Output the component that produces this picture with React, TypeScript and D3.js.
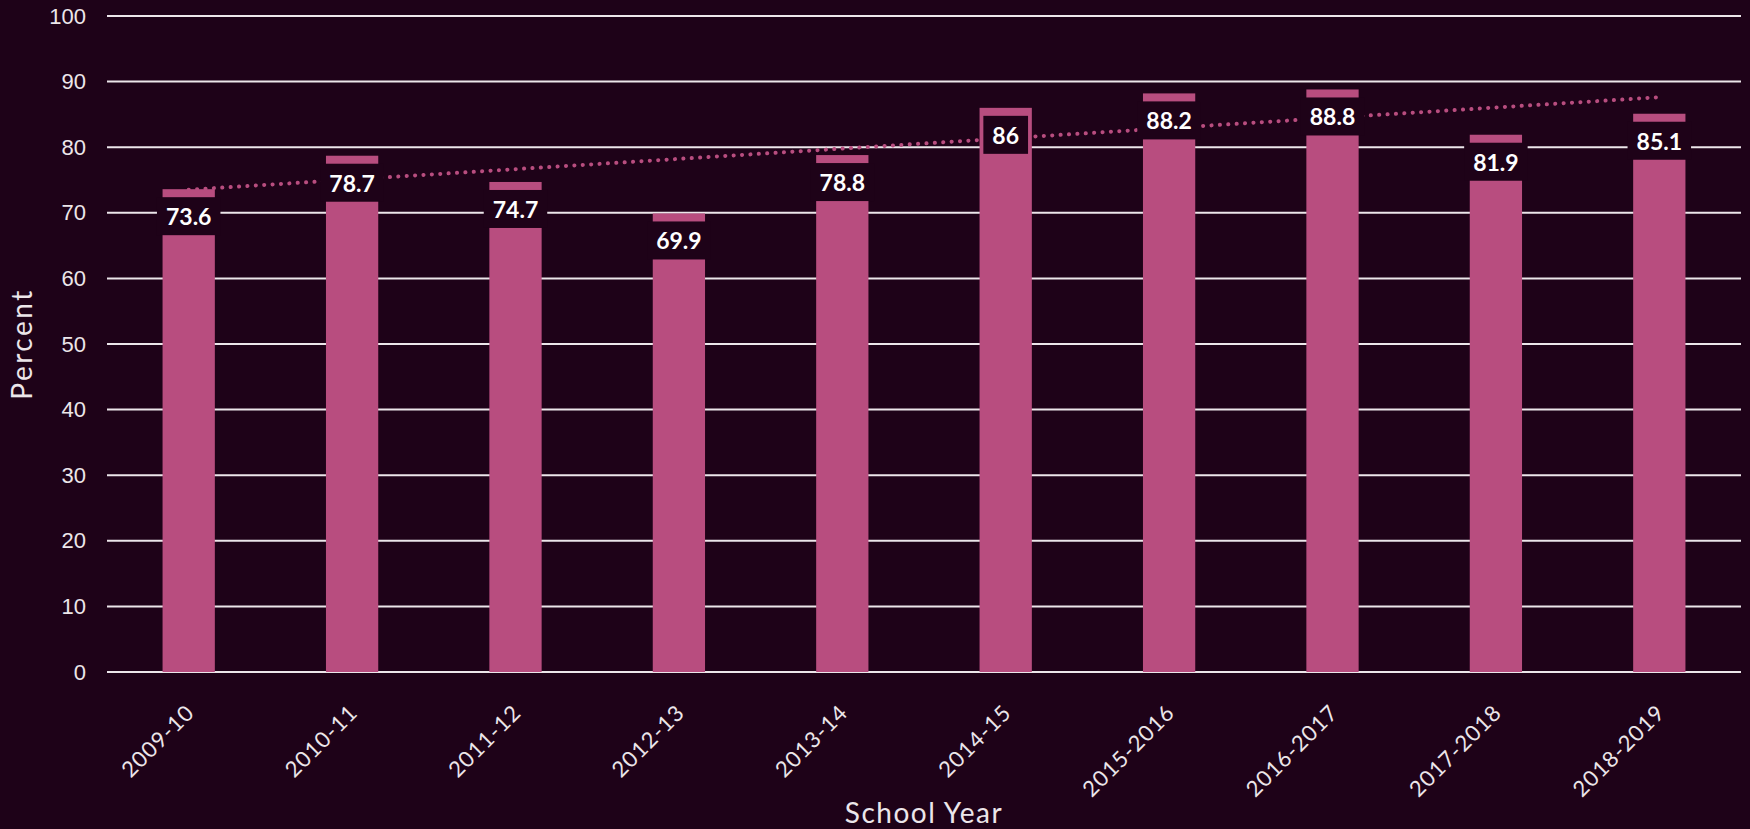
import { useEffect, useRef } from "react";
import * as d3 from "d3";

const years = [
  "2009-10", "2010-11", "2011-12", "2012-13", "2013-14",
  "2014-15", "2015-2016", "2016-2017", "2017-2018", "2018-2019",
];
const percents = [73.6, 78.7, 74.7, 69.9, 78.8, 86, 88.2, 88.8, 81.9, 85.1];
const yTicks = [0, 10, 20, 30, 40, 50, 60, 70, 80, 90, 100];

const BG = "#1e0218";
const BAR = "#b84d7f";
const GRID = "#ece6ea";

export default function App() {
  const svgRef = useRef<SVGSVGElement | null>(null);

  useEffect(() => {
    if (!svgRef.current) return;
    const width = 1750;
    const height = 829;
    const left = 107, right = 1741, top = 16, bottom = 672;

    const svg = d3.select(svgRef.current);
    svg.selectAll("*").remove();
    svg.attr("width", width).attr("height", height);

    svg.append("rect").attr("width", width).attr("height", height).attr("fill", BG);

    const x = d3.scaleBand<string>()
      .domain(years)
      .range([left, right])
      .paddingInner(0.68)
      .paddingOuter(0.34);

    const y = d3.scaleLinear().domain([0, 100]).range([bottom, top]);

    // gridlines + y labels
    const grid = svg.append("g");
    grid.selectAll("line")
      .data(yTicks)
      .enter()
      .append("line")
      .attr("x1", left)
      .attr("x2", right)
      .attr("y1", d => y(d))
      .attr("y2", d => y(d))
      .attr("stroke", GRID)
      .attr("stroke-width", 2);

    grid.selectAll("text")
      .data(yTicks)
      .enter()
      .append("text")
      .attr("x", 86)
      .attr("y", d => y(d))
      .attr("text-anchor", "end")
      .attr("dominant-baseline", "central")
      .attr("font-family", "'Liberation Sans', Arial, sans-serif")
      .attr("font-size", 22)
      .attr("fill", GRID)
      .text(d => String(d));

    // bars
    svg.append("g")
      .selectAll("rect")
      .data(percents)
      .enter()
      .append("rect")
      .attr("x", (_, i) => x(years[i])!)
      .attr("y", d => y(d))
      .attr("width", x.bandwidth())
      .attr("height", d => bottom - y(d))
      .attr("fill", BAR);

    // linear trend line
    const idx = percents.map((_, i) => i);
    const mx = d3.mean(idx)!;
    const my = d3.mean(percents)!;
    const slope = d3.sum(idx, i => (i - mx) * (percents[i] - my)) / d3.sum(idx, i => (i - mx) ** 2);
    const icpt = my - slope * mx;
    const trend = idx.map(i => ({ year: years[i], v: icpt + slope * i }));
    const line = d3.line<{ year: string; v: number }>()
      .x(d => x(d.year)! + x.bandwidth() / 2)
      .y(d => y(d.v));
    svg.append("path")
      .datum(trend)
      .attr("d", line)
      .attr("fill", "none")
      .attr("stroke", BAR)
      .attr("stroke-width", 4)
      .attr("stroke-linecap", "round")
      .attr("stroke-dasharray", "0.1 8.3");

    // data labels with background boxes
    const labels = svg.append("g");
    percents.forEach((v, i) => {
      const cx = x(years[i])! + x.bandwidth() / 2;
      const cy = y(v) + 27;
      const lg = labels.append("g");
      const t = lg.append("text")
        .attr("x", cx)
        .attr("y", cy)
        .attr("text-anchor", "middle")
        .attr("dominant-baseline", "central")
        .attr("font-family", "Lato, 'Noto Sans', sans-serif")
        .attr("font-weight", 700)
        .attr("font-size", 23)
        .attr("fill", "#ffffff")
        .text(String(v));
      const w = (t.node() as SVGTextElement).getComputedTextLength();
      lg.insert("rect", "text")
        .attr("x", cx - w / 2 - 9)
        .attr("y", cy - 19)
        .attr("width", w + 18)
        .attr("height", 38)
        .attr("fill", BG);
    });

    // x labels
    svg.append("g")
      .selectAll("text")
      .data(years)
      .enter()
      .append("text")
      .attr("transform", d => `translate(${x(d)! + x.bandwidth() / 2 + 7},${bottom + 42}) rotate(-45)`)
      .attr("text-anchor", "end")
      .attr("font-family", "Lato, 'Noto Sans', sans-serif")
      .attr("font-size", 22)
      .attr("letter-spacing", 1)
      .attr("fill", GRID)
      .text(d => d);

    // axis titles
    svg.append("text")
      .attr("x", (left + right) / 2)
      .attr("y", 823)
      .attr("text-anchor", "middle")
      .attr("font-family", "Lato, 'Noto Sans', sans-serif")
      .attr("font-size", 28)
      .attr("letter-spacing", 1.5)
      .attr("fill", GRID)
      .text("School Year");

    svg.append("text")
      .attr("transform", `translate(32,${(top + bottom) / 2}) rotate(-90)`)
      .attr("text-anchor", "middle")
      .attr("font-family", "Lato, 'Noto Sans', sans-serif")
      .attr("font-size", 28)
      .attr("letter-spacing", 2.5)
      .attr("fill", GRID)
      .text("Percent");
  }, []);

  return <svg ref={svgRef} style={{ position: "fixed", left: 0, top: 0, display: "block" }} />;
}
